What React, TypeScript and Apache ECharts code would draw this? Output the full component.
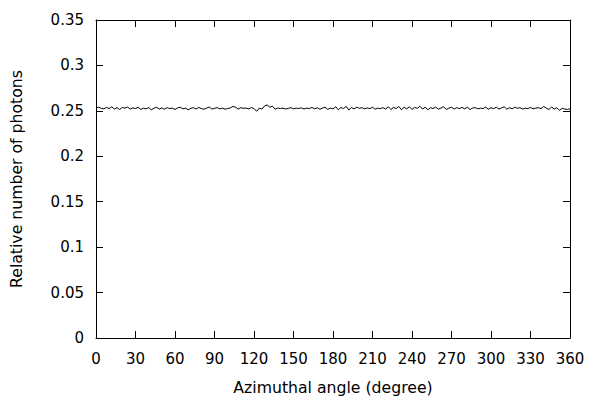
import React, { useEffect, useRef } from "react";
import * as echarts from "echarts";

const xTitle = "Azimuthal angle (degree)";
const yTitle = "Relative number of photons";
const angleStep = 2;
const photons: number[] = [
  0.2535, 0.2540, 0.2528, 0.2522, 0.2538, 0.2525, 0.2545, 0.2520, 0.2535, 0.2515,
  0.2538, 0.2530, 0.2542, 0.2518, 0.2533, 0.2525, 0.2540, 0.2515, 0.2530, 0.2522,
  0.2536, 0.2512, 0.2528, 0.2540, 0.2520, 0.2532, 0.2518, 0.2535, 0.2525, 0.2530,
  0.2515, 0.2532, 0.2540, 0.2522, 0.2530, 0.2512, 0.2528, 0.2535, 0.2520, 0.2538,
  0.2525, 0.2518, 0.2530, 0.2542, 0.2520, 0.2528, 0.2536, 0.2522, 0.2530, 0.2518,
  0.2525, 0.2532, 0.2548, 0.2540, 0.2520, 0.2535, 0.2528, 0.2530, 0.2522, 0.2536,
  0.2525, 0.2495, 0.2530, 0.2520, 0.2555, 0.2565, 0.2540, 0.2552, 0.2518, 0.2532,
  0.2525, 0.2530, 0.2520, 0.2528, 0.2535, 0.2522, 0.2530, 0.2526, 0.2533, 0.2520,
  0.2530, 0.2525, 0.2538, 0.2522, 0.2534, 0.2518, 0.2530, 0.2540, 0.2515, 0.2532,
  0.2520, 0.2545, 0.2512, 0.2538, 0.2525, 0.2550, 0.2510, 0.2536, 0.2522, 0.2540,
  0.2528, 0.2535, 0.2522, 0.2532, 0.2525, 0.2540, 0.2518, 0.2530, 0.2524, 0.2536,
  0.2520, 0.2545, 0.2515, 0.2538, 0.2525, 0.2548, 0.2512, 0.2540, 0.2522, 0.2545,
  0.2515, 0.2538, 0.2528, 0.2550, 0.2520, 0.2540, 0.2512, 0.2535, 0.2525, 0.2542,
  0.2518, 0.2532, 0.2545, 0.2515, 0.2530, 0.2540, 0.2520, 0.2535, 0.2525, 0.2538,
  0.2522, 0.2540, 0.2515, 0.2530, 0.2536, 0.2522, 0.2530, 0.2525, 0.2542, 0.2518,
  0.2535, 0.2525, 0.2540, 0.2520, 0.2532, 0.2545, 0.2518, 0.2535, 0.2522, 0.2540,
  0.2528, 0.2535, 0.2520, 0.2530, 0.2525, 0.2538, 0.2522, 0.2530, 0.2535, 0.2525,
  0.2548, 0.2530, 0.2515, 0.2542, 0.2520, 0.2535, 0.2505, 0.2528, 0.2520, 0.2515,
  0.2522,
];
const angles: number[] = photons.map((_, i) => i * angleStep);

const FONT = "DejaVu Sans";

export default function App() {
  const ref = useRef<HTMLDivElement>(null);
  useEffect(() => {
    if (!ref.current) return;
    const chart = echarts.init(ref.current, null, { renderer: "svg" });
    const axisLine = { show: true, onZero: false, lineStyle: { color: "#000", width: 1 } };
    const axisTick = { show: true, inside: true, length: 7, lineStyle: { color: "#000", width: 1 } };
    const label = { color: "#000", fontSize: 15, fontFamily: FONT };
    const nameStyle = { color: "#000", fontSize: 15.7, fontFamily: FONT };
    chart.setOption({
      animation: false,
      backgroundColor: "#fff",
      grid: { left: 95, right: 30, top: 20, bottom: 61, containLabel: false },
      xAxis: [
        {
          type: "value", position: "bottom", min: 0, max: 360, interval: 30,
          axisLine, axisTick, splitLine: { show: false },
          axisLabel: { ...label, margin: 13 },
          name: xTitle, nameLocation: "middle", nameGap: 41,
          nameTextStyle: nameStyle,
        },
        {
          type: "value", position: "top", min: 0, max: 360, interval: 30,
          axisLine, axisTick, splitLine: { show: false }, axisLabel: { show: false },
        },
      ],
      yAxis: [
        {
          type: "value", position: "left", min: 0, max: 0.35, interval: 0.05,
          axisLine, axisTick, splitLine: { show: false },
          axisLabel: { ...label, margin: 12 },
          name: yTitle, nameLocation: "middle", nameGap: 72,
          nameTextStyle: nameStyle,
        },
        {
          type: "value", position: "right", min: 0, max: 0.35, interval: 0.05,
          axisLine, axisTick, splitLine: { show: false }, axisLabel: { show: false },
        },
      ],
      series: [
        {
          type: "line",
          data: angles.map((a, i) => [a, photons[i]]),
          showSymbol: false,
          symbol: "none",
          lineStyle: { color: "#000", width: 1 },
          xAxisIndex: 0,
          yAxisIndex: 0,
        },
      ],
    });
    return () => chart.dispose();
  }, []);
  return <div ref={ref} style={{ width: 600, height: 400, position: "absolute", left: 0, top: 0 }} />;
}
